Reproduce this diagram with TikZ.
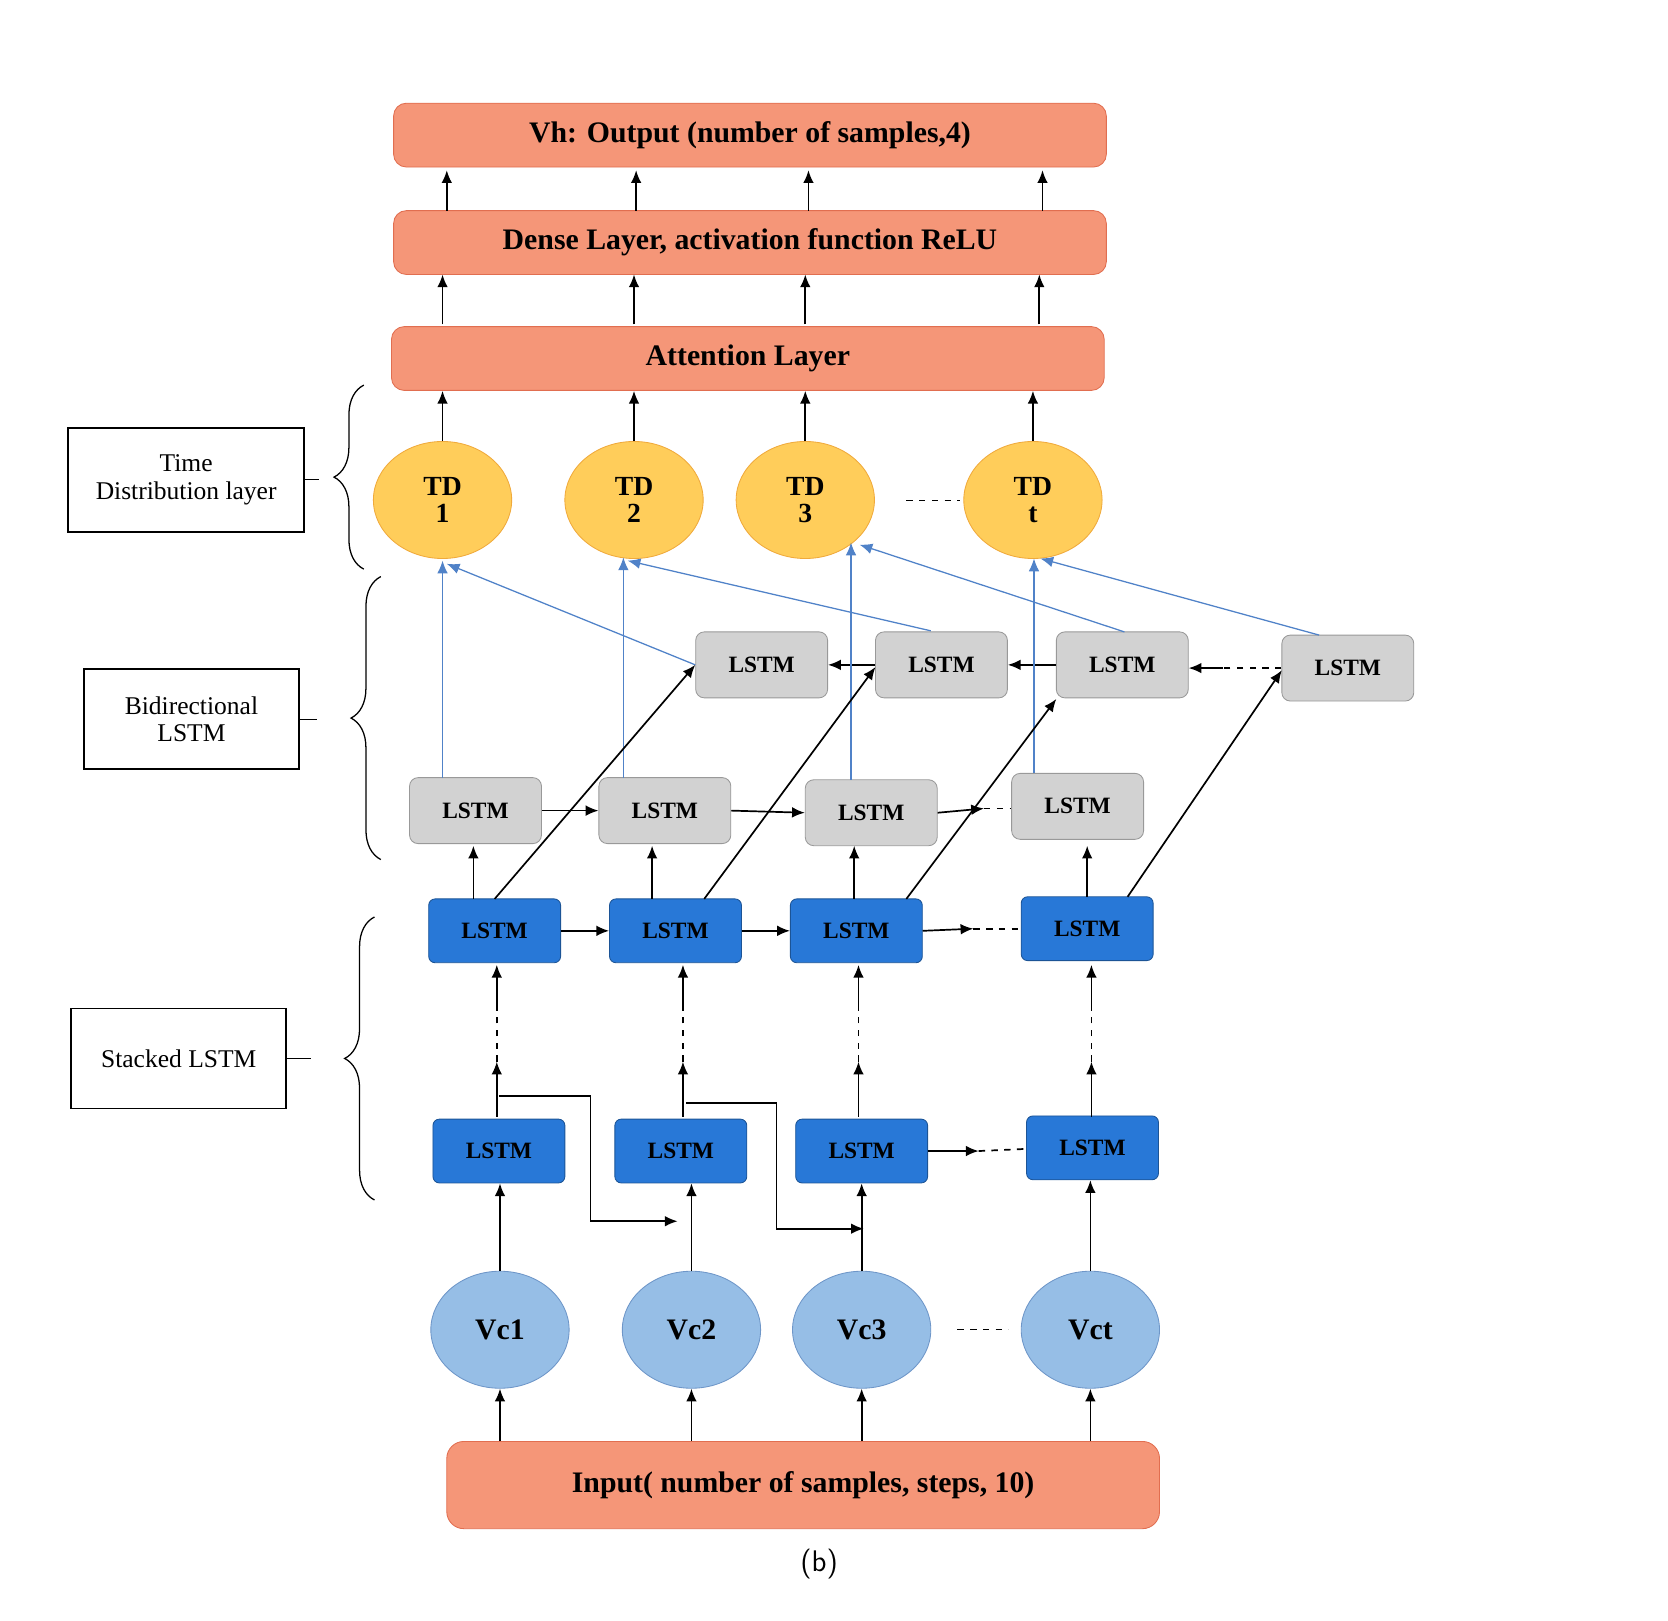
\documentclass[tikz,border=0pt]{standalone}
\usepackage{fontspec}
\setmainfont{Liberation Serif}
\usetikzlibrary{arrows.meta,decorations.pathreplacing,shapes.geometric}
\definecolor{salmon}{RGB}{245,150,120}
\definecolor{salmonD}{RGB}{225,110,80}
\definecolor{tdfill}{RGB}{255,205,90}
\definecolor{tdline}{RGB}{240,170,60}
\definecolor{vcfill}{RGB}{150,190,230}
\definecolor{vcline}{RGB}{110,150,200}
\definecolor{lblue}{RGB}{40,120,215}
\definecolor{ablue}{RGB}{80,130,200}
\begin{document}
\begin{tikzpicture}[x=0.5pt,y=-0.5pt,
 big/.style={draw=salmonD,fill=salmon,rounded corners=6pt,minimum width=335pt,minimum height=30pt,font=\fontsize{14}{16}\selectfont\bfseries},
 td/.style={ellipse,draw=tdline,fill=tdfill,minimum width=65pt,minimum height=55pt,align=center,font=\fontsize{13}{13}\selectfont\bfseries},
 vc/.style={ellipse,draw=vcline,fill=vcfill,minimum width=65pt,minimum height=55pt,font=\fontsize{14}{14}\selectfont\bfseries},
 gl/.style={draw=gray!80,fill=gray!35,rounded corners=4pt,minimum width=62pt,minimum height=31pt,font=\fontsize{11}{11}\selectfont\bfseries},
 bl/.style={draw=lblue!70!black,fill=lblue,rounded corners=3pt,minimum width=62pt,minimum height=30pt,font=\fontsize{11}{11}\selectfont\bfseries,drop shadow/.try},
 lab/.style={draw,thick,align=center,font=\fontsize{12}{13}\selectfont},
 ar/.style={-{Latex[length=6pt,width=5pt]},thick},
 ab/.style={-{Latex[length=6pt,width=5pt]},ablue,semithick},
 br/.style={decorate,decoration={brace,amplitude=14pt,mirror},semithick}]
\useasboundingbox (0,0) rectangle (1568,1523);
\node[big] (out) at (705,127) {Vh: Output (number of samples,4)};
\node[big] (den) at (705,228) {Dense Layer, activation function ReLU};
\node[big] (att) at (703,337) {Attention Layer};
\foreach \a/\b in {420/420,598/598,760/760,980/980}{\draw[ar] (\a,198) -- (\b,160);}
\foreach \a in {416,596,757,977}{\draw[ar] (\a,305) -- (\a,258);}
\node[td] (td1) at (416,470) {TD\\1};
\node[td] (td2) at (596,470) {TD\\2};
\node[td] (td3) at (757,470) {TD\\3};
\node[td] (tdt) at (971,470) {TD\\t};
\foreach \n/\x in {td1/418,td2/596,td3/757,tdt/978}{\draw[ar] (\n.north) -- (\n.north|-att.south);}
\draw[dashed] (852,470) -- (902,470);
% bidirectional
\node[gl] (b1) at (716,625) {LSTM};
\node[gl] (b2) at (885,625) {LSTM};
\node[gl] (b3) at (1055,625) {LSTM};
\node[gl] (b4) at (1267,628) {LSTM};
\node[gl] (f1) at (447,762) {LSTM};
\node[gl] (f2) at (625,762) {LSTM};
\node[gl] (f3) at (819,764) {LSTM};
\node[gl] (f4) at (1013,758) {LSTM};
\draw[ar] (b2.west) -- (b1.east);
\draw[ar] (b3.west) -- (b2.east);
\draw[dashed,thick] (b4.west) -- (1150,628);
\draw[ar] (1150,628) -- (b3.east|-0,628);
\draw[ar] (f1.east) -- (f2.west);
\draw[ar] (f2.east) -- (f3.west);
\draw[ar] (f3.east) -- (925,760);
\draw[dashed,thick] (925,760) -- (f4.west|-0,760);
% blue arrows
\draw[ab] (416,731) -- (416,527);
\draw[ab] (586,731) -- (586,524);
\draw[ab] (800,733) -- (800,510);
\draw[ab] (972,727) -- (972,525);
\draw[ab] (b1.west) -- (420,530);
\draw[ab] (875,593) -- (590,527);
\draw[ab] (1057,594) -- (808,512);
\draw[ab] (1240,597) -- (978,525);
% stacked
\node[bl] (s1) at (465,875) {LSTM};
\node[bl] (s2) at (635,875) {LSTM};
\node[bl] (s3) at (805,875) {LSTM};
\node[bl] (s4) at (1022,873) {LSTM};
\node[bl] (r1) at (469,1082) {LSTM};
\node[bl] (r2) at (640,1082) {LSTM};
\node[bl] (r3) at (810,1082) {LSTM};
\node[bl] (r4) at (1027,1079) {LSTM};
\draw[ar] (s1.east) -- (s2.west);
\draw[ar] (s2.east) -- (s3.west);
\draw[ar] (s3.east) -- (915,873);
\draw[dashed,thick] (915,873) -- (s4.west|-0,873);
\draw[ar] (r3.east) -- (920,1082);
\draw[dashed,thick] (920,1082) -- (r4.west|-0,1080);
\foreach \x/\y in {445/845,613/845,803/845,1022/843}{\draw[ar] (\x,\y) -- (\x,795);}
\draw[ar] (465,845) -- (b1.west);
\draw[ar] (662,845) -- (823,627);
\draw[ar] (852,845) -- (993,657);
\draw[ar] (1060,843) -- (1205,630);
\foreach \n/\m/\x in {r1/s1/467,r2/s2/642,r3/s3/807,r4/s4/1026}{
 \draw[ar] (\x,1050) -- (\x,998);
 \draw[dashed,thick] (\x,998) -- (\x,945);
 \draw[ar] (\x,945) -- (\x,907);}
\draw[ar] (469,1030) -- (555,1030) -- (555,1148) -- (637,1148);
\draw[ar] (645,1037) -- (730,1037) -- (730,1155) -- (812,1155);
% vc
\node[vc] (v1) at (470,1250) {Vc1};
\node[vc] (v2) at (650,1250) {Vc2};
\node[vc] (v3) at (810,1250) {Vc3};
\node[vc] (v4) at (1025,1250) {Vct};
\draw[dashed] (900,1250) -- (948,1250);
\node[draw=salmonD,fill=salmon,rounded corners=8pt,minimum width=335pt,minimum height=41pt,font=\fontsize{14}{16}\selectfont\bfseries] (in) at (755,1396) {Input( number of samples, steps, 10)};
\foreach \n/\r in {v1/r1,v2/r2,v3/r3,v4/r4}{
 \draw[ar] (\n.north) -- (\n.north|-\r.south);
 \draw[ar] (\n.south|-in.north) -- (\n.south);}
\node[font=\sffamily\fontsize{14}{14}\selectfont] (cap) at (770,1470) {(b)};
% braces and labels
\draw[br] (342,362) -- (342,535) coordinate[midway] (bt);
\draw[br] (358,542) -- (358,808) coordinate[midway] (bb);
\draw[br] (352,862) -- (352,1128) coordinate[midway] (bs);
\node[lab,minimum width=111pt,minimum height=49pt] (lt) at (175,451) {Time\\Distribution layer};
\node[lab,minimum width=101pt,minimum height=47pt] (lb) at (180,676) {Bidirectional\\LSTM};
\node[lab,minimum width=101pt,minimum height=47pt] (ls) at (168,995) {Stacked LSTM};
\draw (lt.east) -- (300,451);
\draw (lb.east) -- (298,676);
\draw (ls.east) -- (292,995);
\end{tikzpicture}
\end{document}
